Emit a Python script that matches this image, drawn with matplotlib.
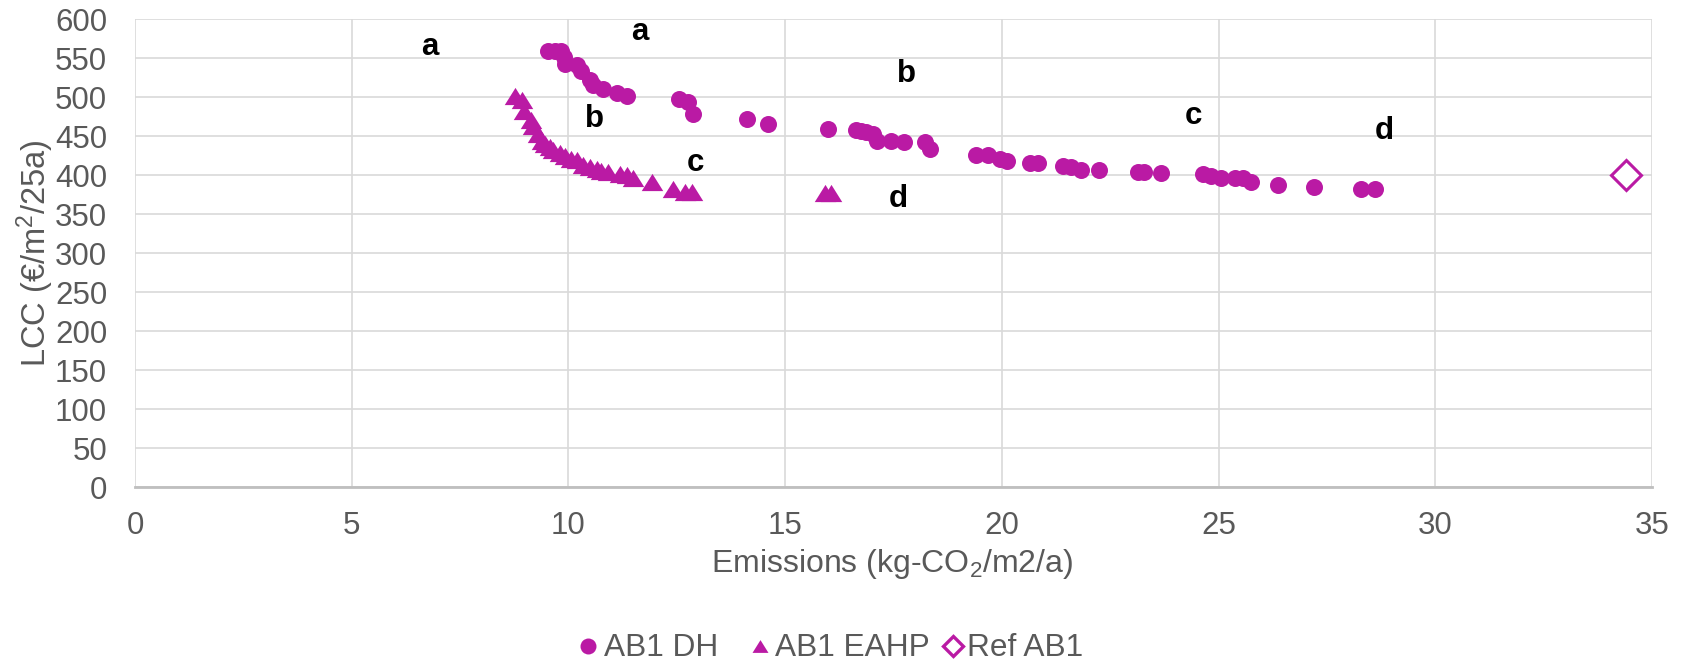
import matplotlib
matplotlib.use("Agg")
import matplotlib.pyplot as plt
from matplotlib.lines import Line2D

plt.rcParams['font.family'] = ['Liberation Sans', 'DejaVu Sans']
plt.rcParams['mathtext.fontset'] = 'custom'
plt.rcParams['mathtext.rm'] = 'Liberation Sans'
plt.rcParams['mathtext.it'] = 'Liberation Sans'

# AB1 DH (circles)
dh_x = [9.53, 9.69, 9.84, 9.90, 9.92, 10.19, 10.30, 10.49, 10.57, 10.79, 11.13, 11.34,
        12.55, 12.76, 12.88, 14.11, 14.61, 15.98, 16.64, 16.75, 16.87, 17.03, 17.13,
        17.44, 17.74, 18.22, 18.35, 19.41, 19.68, 19.95, 20.12, 20.64, 20.83, 21.41,
        21.60, 21.83, 22.23, 23.14, 23.29, 23.68, 24.65, 24.83, 25.06, 25.37, 25.56,
        25.74, 26.37, 27.20, 28.29, 28.60]
dh_y = [559, 559, 559, 552, 543, 541, 534, 522, 516, 511, 506, 502,
        498, 494, 478, 472, 466, 459, 458, 457, 456, 453, 444,
        444, 443, 443, 434, 426, 426, 421, 418, 416, 416, 412,
        411, 407, 407, 404, 404, 403, 402, 399, 397, 396, 396,
        392, 388, 385, 383, 382]

# AB1 EAHP (triangles)
eahp_x = [8.76, 8.94, 8.97, 9.13, 9.19, 9.30, 9.38, 9.46, 9.57, 9.65, 9.80, 9.92,
          10.07, 10.19, 10.34, 10.49, 10.65, 10.76, 10.92, 11.18, 11.34, 11.49,
          11.92, 12.42, 12.70, 12.85, 15.93, 16.05]
eahp_y = [502, 497, 482, 471, 463, 453, 444, 440, 436, 432, 429, 425,
          421, 419, 413, 411, 408, 406, 404, 402, 400, 397,
          392, 382, 379, 378, 377, 377]

# Ref AB1 (open diamond)
ref_x = [34.4]
ref_y = [400]

# letter annotations (x, baseline y)
labels = ['a', 'a', 'b', 'b', 'c', 'c', 'd', 'd']
label_x = [6.80, 11.65, 17.79, 10.59, 24.41, 12.92, 28.83, 17.60]
label_y = [554, 573, 520, 462, 466, 406, 447, 360]

legend_names = ['AB1 DH', 'AB1 EAHP', 'Ref AB1']

col = '#BA1AA4'
grey = '#595959'
fs = 22.5

W, H = 1688, 662
fig = plt.figure(figsize=(W / 100, H / 100), dpi=100)
ax = fig.add_axes([135/W, 1-487.3/H, (1652-135)/W, (487.3-19.3)/H])

tri = [(-1, -0.8), (1, -0.8), (0, 0.8)]
ax.scatter(dh_x, dh_y, s=150, color=col, marker='o', linewidths=0, zorder=3)
ax.scatter(eahp_x, eahp_y, s=240, color=col, marker=tri, linewidths=0, zorder=3)
ax.plot(ref_x, ref_y, linestyle='none', marker='D', markersize=15.5,
        markerfacecolor='white', markeredgecolor=col, markeredgewidth=2.2, zorder=3)

for t, x, y in zip(labels, label_x, label_y):
    ax.text(x, y, t, ha='center', va='baseline', fontsize=fs, fontweight='bold', color='black')

ax.set_xlim(0, 35)
ax.set_ylim(0, 600)
ax.set_xticks(range(0, 36, 5))
ax.set_yticks(range(0, 601, 50))
ax.grid(True, color='#d9d9d9', linewidth=1.2)
ax.set_axisbelow(True)
for s in ['top', 'right', 'left']:
    ax.spines[s].set_visible(False)
ax.spines['bottom'].set_color('#bfbfbf')
ax.spines['bottom'].set_linewidth(2)
ax.tick_params(axis='both', length=0, labelsize=fs, labelcolor=grey)
ax.tick_params(axis='y', pad=20)
ax.tick_params(axis='x', pad=17)

fig.text(35.5/W, 1-253/H, 'LCC (€/m$^2$/25a)', rotation=90, ha='center', va='center',
         fontsize=23.5, color=grey)
fig.text(892/W, 1-564/H, 'Emissions (kg-CO$_2$/m2/a)', ha='center', va='center',
         fontsize=23, color=grey)

# legend drawn by hand (Excel spacing is uneven)
leg_marker_x = [588, 760, 953]
leg_text_x = [604, 775, 967]
leg_styles = [
    dict(marker='o', markersize=11.5, color=col, markeredgewidth=0),
    dict(marker=tri, markersize=11.5, color=col, markeredgewidth=0),
    dict(marker='D', markersize=10, markerfacecolor='white', markeredgecolor=col,
         markeredgewidth=2.4),
]
for mx, tx, name, st in zip(leg_marker_x, leg_text_x, legend_names, leg_styles):
    fig.add_artist(Line2D([mx/W], [1-646/H], linestyle='none', transform=fig.transFigure, **st))
    fig.text(tx/W, 1-656/H, name, ha='left', va='baseline', fontsize=22.8, color=grey)

fig.savefig('out.png', dpi=100)
